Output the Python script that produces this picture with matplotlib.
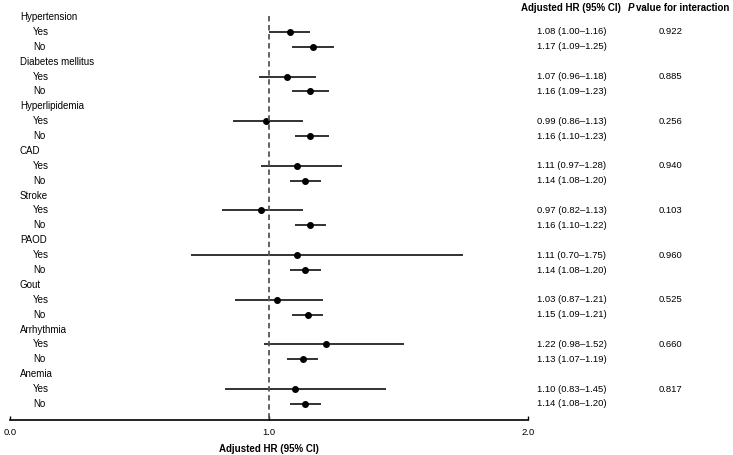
import matplotlib
matplotlib.use("Agg")
import matplotlib.pyplot as plt
import matplotlib.transforms as mtrans

plt.rcParams['font.family'] = ['Liberation Sans', 'DejaVu Sans']

# subgroups, each with a Yes and a No row
groups = ["Hypertension", "Diabetes mellitus", "Hyperlipidemia", "CAD", "Stroke",
          "PAOD", "Gout", "Arrhythmia", "Anemia"]
hr_yes = [1.08, 1.07, 0.99, 1.11, 0.97, 1.11, 1.03, 1.22, 1.10]
lo_yes = [1.00, 0.96, 0.86, 0.97, 0.82, 0.70, 0.87, 0.98, 0.83]
hi_yes = [1.16, 1.18, 1.13, 1.28, 1.13, 1.75, 1.21, 1.52, 1.45]
hr_no = [1.17, 1.16, 1.16, 1.14, 1.16, 1.14, 1.15, 1.13, 1.14]
lo_no = [1.09, 1.09, 1.10, 1.08, 1.10, 1.08, 1.09, 1.07, 1.08]
hi_no = [1.25, 1.23, 1.23, 1.20, 1.22, 1.20, 1.21, 1.19, 1.20]
p_inter = ["0.922", "0.885", "0.256", "0.940", "0.103", "0.960", "0.525", "0.660", "0.817"]
xticks = [0.0, 1.0, 2.0]

W, H = 733, 455
fig = plt.figure(figsize=(W / 100, H / 100), dpi=100)
# axes: x from 0.0 at 10px to 2.0 at 528px, bottom line at 419.5px
ax = fig.add_axes([10 / W, (H - 419.5) / H, 518 / W, (419.5 - 8) / H])

row_h = (404 - 17) / 26.0
y_top = -(17 - 8) / row_h
y_bot = 26 + (419.5 - 404) / row_h
ax.set_xlim(0, 2)
ax.set_ylim(y_bot, y_top)

tr = mtrans.blended_transform_factory(fig.transFigure, ax.transData)
fs = 7
fs_num = 6.8

for i, g in enumerate(groups):
    r = i * 3
    fig.text(20 / W, r, g, transform=tr, fontsize=fs, va='center', ha='left')
    for k, (lab, hr, lo, hi) in enumerate([("Yes", hr_yes[i], lo_yes[i], hi_yes[i]),
                                           ("No", hr_no[i], lo_no[i], hi_no[i])]):
        y = r + 1 + k
        fig.text(33 / W, y, lab, transform=tr, fontsize=fs, va='center', ha='left')
        ax.plot([lo, hi], [y, y], color='#222222', lw=1.3, solid_capstyle='butt')
        ax.plot(hr, y, 'o', color='black', ms=4.0)
        fig.text(537 / W, y, "%.2f (%.2f\u2013%.2f)" % (hr, lo, hi), transform=tr,
                 fontsize=fs_num, va='center', ha='left')
    fig.text(659 / W, r + 1, p_inter[i], transform=tr, fontsize=fs_num,
             va='center', ha='left')

# reference line
ax.plot([1, 1], [-0.05, y_bot], color='#555555', lw=1.3, ls=(0, (3, 2)))

# column headers
fig.text(521 / W, y_top, "Adjusted HR (95% CI)", transform=tr, fontsize=fs,
         fontweight='bold', va='center', ha='left')
fig.text(628 / W, y_top, "P", transform=tr, fontsize=fs,
         fontweight='bold', fontstyle='italic', va='center', ha='left')
fig.text(636 / W, y_top, "value for interaction", transform=tr, fontsize=fs,
         fontweight='bold', va='center', ha='left')

for s in ['left', 'top', 'right']:
    ax.spines[s].set_visible(False)
ax.spines['bottom'].set_linewidth(1.2)
ax.set_yticks([])
ax.set_xticks(xticks)
ax.set_xticklabels(["%.1f" % t for t in xticks], fontsize=fs_num)
ax.tick_params(axis='x', direction='in', length=3, width=1, pad=6)
ax.set_xlabel("Adjusted HR (95% CI)", fontsize=fs, fontweight='bold', labelpad=5)
ax.patch.set_visible(False)

fig.savefig("out.png", dpi=100)
